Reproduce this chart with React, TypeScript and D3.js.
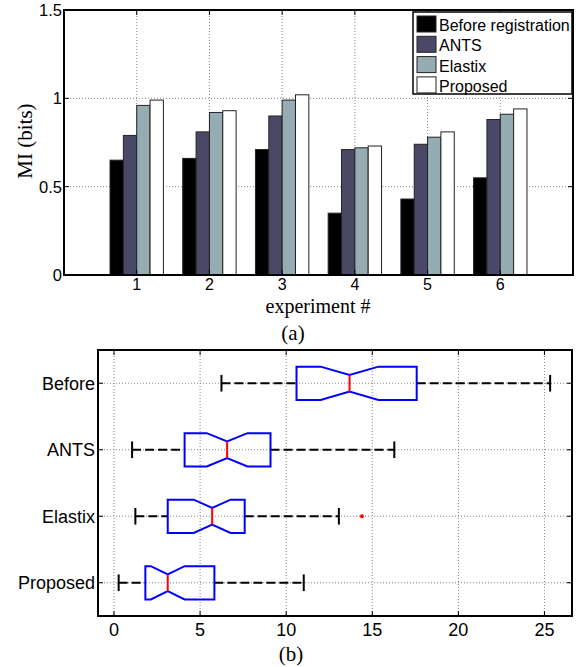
import React, { useRef, useEffect } from 'react';
import * as d3 from 'd3';

// (a) MI per experiment
const experiments = [1, 2, 3, 4, 5, 6];
const seriesNames = ['Before registration', 'ANTS', 'Elastix', 'Proposed'];
const beforeReg = [0.65, 0.66, 0.71, 0.35, 0.43, 0.55];
const antsMI = [0.79, 0.81, 0.9, 0.71, 0.74, 0.88];
const elastixMI = [0.96, 0.92, 0.99, 0.72, 0.78, 0.91];
const proposedMI = [0.99, 0.93, 1.02, 0.73, 0.81, 0.94];
const miTicks = [0, 0.5, 1, 1.5];
const miTickLabels = ['0', '0.5', '1', '1.5'];

// (b) box plot stats
const boxGroups = ['Before', 'ANTS', 'Elastix', 'Proposed'];
const whiskerLow = [6.24, 1.05, 1.24, 0.27];
const q1 = [10.6, 4.1, 3.12, 1.82];
const medians = [13.68, 6.57, 5.7, 3.12];
const q3 = [17.58, 9.09, 7.59, 5.83];
const whiskerHigh = [25.33, 16.28, 13.06, 11.02];
const notchHalf = [1.68, 1.18, 1.07, 0.98];
const outlierGroups = ['Elastix'];
const outlierValues = [14.4];
const boxTicks = [0, 5, 10, 15, 20, 25];

const barColors = ['#000000', '#4a4867', '#94acb2', '#ffffff'];
const SANS = "'Liberation Sans', Arial, sans-serif";
const SERIF = "'Liberation Serif', 'Times New Roman', serif";

const App = () => {
    const svgRef = useRef(null);

    useEffect(() => {
        const svg = d3.select(svgRef.current);
        svg.selectAll('*').remove();

        // ---------- top chart ----------
        const top = { left: 64, right: 573, top: 10, bottom: 275 };
        const x = d3.scaleLinear().domain([0, 7]).range([top.left, top.right]);
        const y = d3.scaleLinear().domain([0, 1.5]).range([top.bottom, top.top]);
        const unit = x(1) - x(0);
        const inner = d3.scaleBand().domain(seriesNames).range([-0.367 * unit, 0.367 * unit]).padding(0);

        const a = svg.append('g');

        // grid
        a.selectAll('.vgrid').data(experiments).join('line')
            .attr('x1', d => x(d)).attr('x2', d => x(d))
            .attr('y1', top.top).attr('y2', top.bottom)
            .attr('stroke', '#666').attr('stroke-width', 0.8).attr('stroke-dasharray', '1,2');
        a.selectAll('.hgrid').data(miTicks.slice(1, 3)).join('line')
            .attr('x1', top.left).attr('x2', top.right)
            .attr('y1', d => y(d)).attr('y2', d => y(d))
            .attr('stroke', '#666').attr('stroke-width', 0.8).attr('stroke-dasharray', '1,2');

        const table = experiments.map((e, i) => [beforeReg[i], antsMI[i], elastixMI[i], proposedMI[i]]);
        a.append('g').selectAll('g').data(experiments).join('g')
            .attr('transform', d => `translate(${x(d)},0)`)
            .selectAll('rect')
            .data((d, i) => table[i].map((v, k) => ({ key: seriesNames[k], value: v, k })))
            .join('rect')
            .attr('x', d => inner(d.key))
            .attr('y', d => y(d.value))
            .attr('width', inner.bandwidth())
            .attr('height', d => y(0) - y(d.value))
            .attr('fill', d => barColors[d.k])
            .attr('stroke', '#222').attr('stroke-width', 1);

        // axes box + ticks (inside, mirrored)
        a.append('rect')
            .attr('x', top.left).attr('y', top.top)
            .attr('width', top.right - top.left).attr('height', top.bottom - top.top)
            .attr('fill', 'none').attr('stroke', '#000').attr('stroke-width', 2);
        experiments.forEach(d => {
            a.append('line').attr('x1', x(d)).attr('x2', x(d)).attr('y1', top.bottom).attr('y2', top.bottom - 5).attr('stroke', '#000');
            a.append('line').attr('x1', x(d)).attr('x2', x(d)).attr('y1', top.top).attr('y2', top.top + 5).attr('stroke', '#000');
        });
        miTicks.forEach(d => {
            a.append('line').attr('x1', top.left).attr('x2', top.left + 5).attr('y1', y(d)).attr('y2', y(d)).attr('stroke', '#000');
            a.append('line').attr('x1', top.right).attr('x2', top.right - 5).attr('y1', y(d)).attr('y2', y(d)).attr('stroke', '#000');
        });

        a.selectAll('.xl').data(experiments).join('text')
            .attr('x', d => x(d)).attr('y', 290)
            .attr('text-anchor', 'middle')
            .attr('font-family', SANS).attr('font-size', 16)
            .text(d => d);
        a.selectAll('.yl').data(miTicks).join('text')
            .attr('x', top.left - 2).attr('y', d => y(d) + 6)
            .attr('text-anchor', 'end')
            .attr('font-family', SANS).attr('font-size', 16.5)
            .text((d, i) => miTickLabels[i]);

        a.append('text')
            .attr('transform', 'translate(32,141) rotate(-90)')
            .attr('text-anchor', 'middle')
            .attr('font-family', SERIF).attr('font-size', 21)
            .text('MI (bits)');
        a.append('text')
            .attr('x', 318).attr('y', 313)
            .attr('text-anchor', 'middle')
            .attr('font-family', SERIF).attr('font-size', 20)
            .text('experiment #');
        a.append('text')
            .attr('x', 293).attr('y', 340)
            .attr('text-anchor', 'middle')
            .attr('font-family', SERIF).attr('font-size', 21)
            .text('(a)');

        // legend
        const legend = a.append('g').attr('transform', 'translate(413,12)');
        legend.append('rect')
            .attr('width', 159).attr('height', 82)
            .attr('fill', '#fff').attr('stroke', '#000').attr('stroke-width', 1.5);
        seriesNames.forEach((name, i) => {
            legend.append('rect')
                .attr('x', 4).attr('y', 4 + i * 20.3)
                .attr('width', 19).attr('height', 16)
                .attr('fill', barColors[i]).attr('stroke', '#222').attr('stroke-width', 1);
            legend.append('text')
                .attr('x', 26).attr('y', 19 + i * 20.3)
                .attr('font-family', SANS).attr('font-size', 16)
                .text(name);
        });

        // ---------- bottom chart ----------
        const bot = { left: 98, right: 572, top: 350, bottom: 616 };
        const bx = d3.scaleLinear().domain([-0.93, 26.6]).range([bot.left, bot.right]);
        const by = d3.scaleLinear().domain([4.5, 0.5]).range([bot.top, bot.bottom]);
        const pos = i => boxGroups.length - i;
        const bu = by(0) - by(1);

        const b = svg.append('g');

        boxTicks.forEach(d => {
            b.append('line').attr('x1', bx(d)).attr('x2', bx(d)).attr('y1', bot.top).attr('y2', bot.bottom)
                .attr('stroke', '#666').attr('stroke-width', 0.8).attr('stroke-dasharray', '1,2');
        });
        boxGroups.forEach((g, i) => {
            b.append('line').attr('x1', bot.left).attr('x2', bot.right).attr('y1', by(pos(i))).attr('y2', by(pos(i)))
                .attr('stroke', '#666').attr('stroke-width', 0.8).attr('stroke-dasharray', '1,2');
        });

        boxGroups.forEach((g, i) => {
            const cy = by(pos(i));
            const h = 0.25 * bu;
            const n = 0.125 * bu;
            // whiskers
            [[whiskerLow[i], q1[i]], [q3[i], whiskerHigh[i]]].forEach(([s, e]) => {
                b.append('line').attr('x1', bx(s)).attr('x2', bx(e)).attr('y1', cy).attr('y2', cy)
                    .attr('stroke', '#000').attr('stroke-width', 2).attr('stroke-dasharray', '9,4');
            });
            [whiskerLow[i], whiskerHigh[i]].forEach(v => {
                b.append('line').attr('x1', bx(v)).attr('x2', bx(v)).attr('y1', cy - 0.125 * bu).attr('y2', cy + 0.125 * bu)
                    .attr('stroke', '#000').attr('stroke-width', 2);
            });
            const lo = medians[i] - notchHalf[i];
            const hi = medians[i] + notchHalf[i];
            const pts = [
                [q1[i], cy - h], [lo, cy - h], [medians[i], cy - n], [hi, cy - h], [q3[i], cy - h],
                [q3[i], cy + h], [hi, cy + h], [medians[i], cy + n], [lo, cy + h], [q1[i], cy + h],
            ].map(([v, yy]) => [bx(v), yy]);
            b.append('path')
                .attr('d', d3.line()(pts) + 'Z')
                .attr('fill', 'none').attr('stroke', '#0000ff').attr('stroke-width', 2);
            b.append('line').attr('x1', bx(medians[i])).attr('x2', bx(medians[i]))
                .attr('y1', cy - n).attr('y2', cy + n)
                .attr('stroke', '#ff0000').attr('stroke-width', 2);
        });

        outlierValues.forEach((v, k) => {
            const i = boxGroups.indexOf(outlierGroups[k]);
            b.append('circle').attr('cx', bx(v)).attr('cy', by(pos(i))).attr('r', 2).attr('fill', '#ff0000');
        });

        b.append('rect')
            .attr('x', bot.left).attr('y', bot.top)
            .attr('width', bot.right - bot.left).attr('height', bot.bottom - bot.top)
            .attr('fill', 'none').attr('stroke', '#000').attr('stroke-width', 2);
        boxTicks.forEach(d => {
            b.append('line').attr('x1', bx(d)).attr('x2', bx(d)).attr('y1', bot.bottom).attr('y2', bot.bottom - 5).attr('stroke', '#000');
            b.append('line').attr('x1', bx(d)).attr('x2', bx(d)).attr('y1', bot.top).attr('y2', bot.top + 5).attr('stroke', '#000');
        });
        boxGroups.forEach((g, i) => {
            b.append('line').attr('x1', bot.left).attr('x2', bot.left + 5).attr('y1', by(pos(i))).attr('y2', by(pos(i))).attr('stroke', '#000');
            b.append('line').attr('x1', bot.right).attr('x2', bot.right - 5).attr('y1', by(pos(i))).attr('y2', by(pos(i))).attr('stroke', '#000');
        });

        b.selectAll('.bxl').data(boxTicks).join('text')
            .attr('x', d => bx(d)).attr('y', 636)
            .attr('text-anchor', 'middle')
            .attr('font-family', SANS).attr('font-size', 18)
            .text(d => d);
        b.selectAll('.byl').data(boxGroups).join('text')
            .attr('x', bot.left - 3).attr('y', (d, i) => by(pos(i)) + 6.5)
            .attr('text-anchor', 'end')
            .attr('font-family', SANS).attr('font-size', 18)
            .text(d => d);
        b.append('text')
            .attr('x', 291).attr('y', 661)
            .attr('text-anchor', 'middle')
            .attr('font-family', SERIF).attr('font-size', 21)
            .text('(b)');
    }, []);

    return <svg ref={svgRef} width={576} height={667} style={{ position: 'absolute', left: 0, top: 0, background: '#fff' }}></svg>;
};

export default App;
